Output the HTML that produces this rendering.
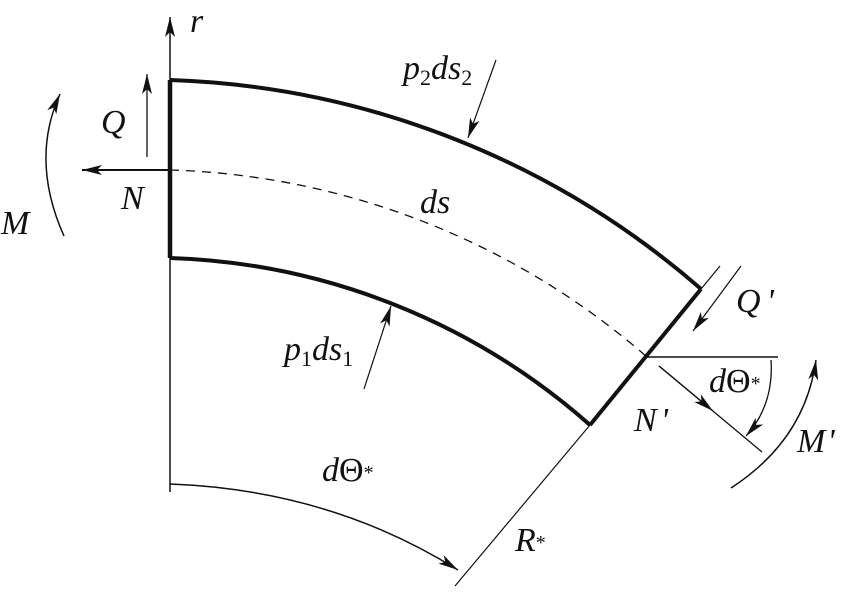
<!DOCTYPE html>
<html><head><style>
html,body{margin:0;padding:0;background:#fff;}
svg{display:block;}
text{font-family:"Liberation Serif","Times New Roman","DejaVu Serif",serif;font-style:italic;fill:#111;}
</style></head><body>
<svg width="847" height="594" viewBox="0 0 847 594" xmlns="http://www.w3.org/2000/svg">
<defs>
<marker id="a" viewBox="0 0 20 10" refX="20" refY="5" markerWidth="20" markerHeight="10" markerUnits="userSpaceOnUse" orient="auto">
<path d="M0,0 L20,5 L0,10 L5,5 Z" fill="#111"/>
</marker>
</defs>
<g fill="none" stroke="#111">
<path d="M170,80 A850,850 0 0 1 701,289" stroke-width="4"/>
<path d="M170,258 A665,665 0 0 1 590,425" stroke-width="4"/>
<path d="M170,80 L170,258" stroke-width="4.5"/>
<path d="M701,289 L590,425" stroke-width="4"/>
<path d="M170,170 A760,760 0 0 1 647,357" stroke-width="1.3" stroke-dasharray="9,7"/>
<path d="M170,492 L170,17" stroke-width="1.5" marker-end="url(#a)"/>
<path d="M147,157 L147,74" stroke-width="1.3" marker-end="url(#a)"/>
<path d="M170,170 L82,170" stroke-width="2" marker-end="url(#a)"/>
<path d="M64,236 Q30,160 60,94" stroke-width="1.5" marker-end="url(#a)"/>
<path d="M496,60 L468,138" stroke-width="1.2" marker-end="url(#a)"/>
<path d="M364,389 L391,306" stroke-width="1.2" marker-end="url(#a)"/>
<path d="M170,484 Q330,490 458,570" stroke-width="1.5" marker-end="url(#a)"/>
<path d="M590,425 L455,586" stroke-width="1.2"/>
<path d="M701,289 L720,266" stroke-width="1.2"/>
<path d="M741,266 L693,331" stroke-width="1.2" marker-end="url(#a)"/>
<path d="M647,357 L778,357" stroke-width="1.6"/>
<path d="M659,366 L762,452" stroke-width="1.3"/>
<path d="M659,366 L713,411" stroke-width="1.3" marker-end="url(#a)"/>
<path d="M771,360 Q774,405 746,436" stroke-width="1.3" marker-end="url(#a)"/>
<path d="M731,488 Q805,440 816,360" stroke-width="1.5" marker-end="url(#a)"/>
</g>
<text x="190" y="32" font-size="34">r</text>
<text x="101" y="133" font-size="34">Q</text>
<text x="121" y="209" font-size="34">N</text>
<text x="1" y="234" font-size="34">M</text>
<text x="403" y="79" font-size="34">p<tspan font-size="22" dy="6" font-style="normal">2</tspan><tspan dy="-6">ds</tspan><tspan font-size="22" dy="6" font-style="normal">2</tspan></text>
<text x="420" y="213" font-size="34">ds</text>
<text x="284" y="360" font-size="34">p<tspan font-size="22" dy="6" font-style="normal">1</tspan><tspan dy="-6">ds</tspan><tspan font-size="22" dy="6" font-style="normal">1</tspan></text>
<text x="322" y="481" font-size="34">d<tspan font-style="normal">Θ</tspan><tspan font-size="20" dy="-2" font-style="normal">*</tspan></text>
<text x="515" y="551" font-size="34">R<tspan font-size="20" dy="-2" font-style="normal">*</tspan></text>
<text x="736" y="312" font-size="34">Q<tspan dx="6">'</tspan></text>
<text x="709" y="392" font-size="34">d<tspan font-style="normal">Θ</tspan><tspan font-size="20" dy="-2" font-style="normal">*</tspan></text>
<text x="634" y="431" font-size="34">N<tspan dx="4">'</tspan></text>
<text x="797" y="452" font-size="34">M<tspan dx="2">'</tspan></text>
</svg>
</body></html>
